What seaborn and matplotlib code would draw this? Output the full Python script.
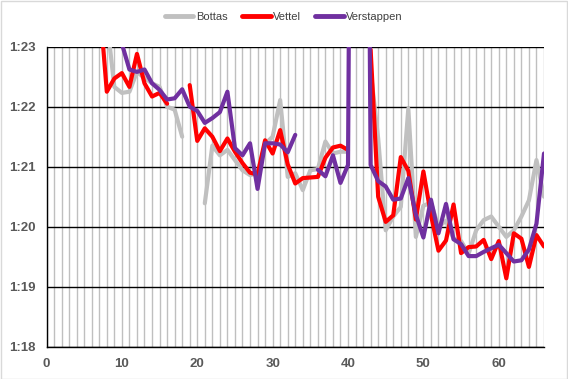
import numpy as np
import pandas as pd
import matplotlib
matplotlib.use("Agg")
import matplotlib.pyplot as plt
from matplotlib.ticker import MultipleLocator, FixedLocator
from matplotlib.patches import Rectangle
import seaborn as sns

nan = np.nan
laps = list(range(1, 67))

bottas = [89.0, 85.0, 84.5, 84.2, 84.0, 83.9, 83.8, 83.46, 82.33, 82.23,
          82.25, 82.58, 82.48, 82.39, 82.33, 82.0, 81.95, 81.5, nan, nan,
          80.39, 81.35, 81.19, 81.28, 81.11, 80.94, 80.86, 80.89, 81.38, 81.5,
          82.11, 80.83, 80.89, 80.61, 80.94, 80.96, 81.42, 81.22, 81.25, 81.25,
          nan, nan, 82.6, 81.47, 79.94, 80.17, 80.33, 81.97, 79.83, 80.35,
          80.4, 80.0, 80.1, 79.8, 79.76, 79.55, 79.94, 80.11, 80.17, 80.0,
          79.83, 79.94, 80.17, 80.44, 81.11, 80.5]

vettel = [88.0, 84.8, 84.4, 84.2, 84.0, 83.9, 83.8, 82.25, 82.47, 82.56,
          82.33, 82.88, 82.39, 82.17, 82.23, 82.05, nan, nan, 82.36, 81.43,
          81.64, 81.5, 81.26, 81.47, 81.25, 81.06, 80.9, 80.87, 81.44, 81.22,
          81.61, 81.04, 80.72, 80.81, 80.82, 80.83, 81.15, 81.32, 81.35, 81.28,
          nan, nan, 82.95, 80.5, 80.08, 80.19, 81.16, 80.93, 80.12, 80.92,
          80.2, 79.6, 79.77, 80.37, 79.56, 79.66, 79.67, 79.78, 79.46, 79.76,
          79.14, 79.89, 79.8, 79.33, 79.86, 79.67]

verstappen = [89.5, 85.5, 85.0, 84.6, 84.3, 84.1, 84.0, 83.9, 83.7, 83.05,
              82.62, 82.58, 82.62, 82.39, 82.28, 82.12, 82.14, 82.29, 82.0, 81.93,
              81.73, 81.81, 81.91, 82.25, 81.31, 81.19, 81.39, 80.63, 81.39, 81.39,
              81.37, 81.24, 81.53, nan, nan, 80.95, 80.84, 81.19, 80.73, 81.03,
              101.0, 99.0, 81.03, 80.76, 80.67, 80.45, 80.47, 80.81, 80.2, 79.82,
              80.45, 79.89, 80.38, 79.79, 79.71, 79.51, 79.51, 79.58, 79.64, 79.7,
              79.56, 79.42, 79.44, 79.62, 80.05, 81.22]

drivers = ["Bottas", "Vettel", "Verstappen"]
colors = ["#C0C0C0", "#FF0000", "#7030A0"]
y_ticks = [78, 79, 80, 81, 82, 83]
y_labels = ["1:18", "1:19", "1:20", "1:21", "1:22", "1:23"]
x_ticks = [0, 10, 20, 30, 40, 50, 60]

frames = []
for name, vals in zip(drivers, [bottas, vettel, verstappen]):
    d = pd.DataFrame({"Lap": laps, "Time": vals})
    d["Driver"] = name
    seg = d["Time"].isna().cumsum()
    d["Segment"] = name + "_" + seg.astype(str)
    frames.append(d.dropna())
df = pd.concat(frames, ignore_index=True)

sns.set_style("white")
plt.rcParams["font.family"] = ["Liberation Sans", "DejaVu Sans"]

fig = plt.figure(figsize=(5.68, 3.79), dpi=100)
ax = fig.add_axes([46.5 / 568, 32.3 / 379, 497.5 / 568, 300 / 379])

sns.lineplot(data=df, x="Lap", y="Time", hue="Driver", units="Segment",
             estimator=None, hue_order=drivers, palette=colors,
             linewidth=3, ax=ax, sort=True)

ax.set_xlim(0, 66)
ax.set_ylim(78, 83)
ax.set_yticks(y_ticks)
ax.set_yticklabels(y_labels)
ax.set_xticks(x_ticks)
ax.xaxis.set_minor_locator(MultipleLocator(1))
ax.set_xlabel("")
ax.set_ylabel("")

ax.grid(False)
for xv in range(0, 67):
    ax.axvline(xv, color="#BFBFBF", lw=1, zorder=0)
for yv in y_ticks:
    ax.axhline(yv, color="black", lw=1, zorder=0.5)

for s in ["top", "right"]:
    ax.spines[s].set_visible(False)
for s in ["left", "bottom"]:
    ax.spines[s].set_color("black")
    ax.spines[s].set_linewidth(1)

ax.tick_params(axis="both", which="both", length=0)
ax.tick_params(axis="y", pad=8, labelsize=9.5, labelcolor="#595959")
ax.tick_params(axis="x", pad=8, labelsize=9.5, labelcolor="#595959")
for lab in ax.get_xticklabels() + ax.get_yticklabels():
    lab.set_fontweight("bold")

sns.move_legend(ax, "center", bbox_to_anchor=(0.477, 1.099), ncol=3,
                frameon=False, title=None, fontsize=8,
                handlelength=2.6, handletextpad=0.2, columnspacing=1.3)
leg = ax.get_legend()
for line in leg.get_lines():
    line.set_linewidth(3.5)
for t in leg.get_texts():
    t.set_color("#404040")

fig.patches.append(Rectangle((0.5 / 568, 0.5 / 379), 566.5 / 568, 377.5 / 379,
                             transform=fig.transFigure, fill=False,
                             edgecolor="#D9D9D9", lw=1))

fig.savefig("out.png", dpi=100)
